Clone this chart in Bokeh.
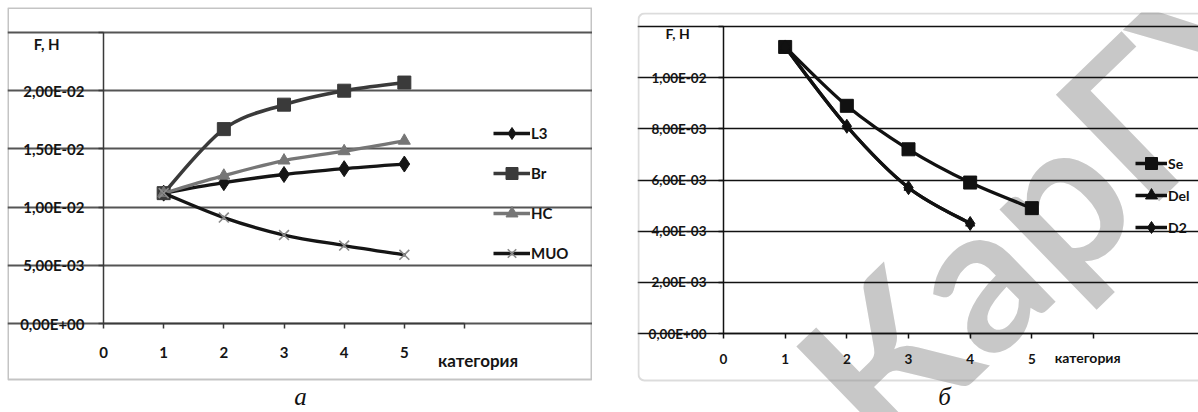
import numpy as np
from bokeh.plotting import figure
from bokeh.models import (Range1d, FixedTicker, Label, Legend, LegendItem, Spacer,
                          LinearAxis, Grid, BoxAnnotation)
from bokeh.layouts import row, column
from bokeh.embed import file_html
from bokeh.resources import INLINE

# ---------------- data ----------------
categories = [1, 2, 3, 4, 5]
L3 = [0.0112, 0.0121, 0.0128, 0.0133, 0.0137]
Br = [0.0112, 0.0167, 0.0188, 0.0200, 0.0207]
HC = [0.0112, 0.0127, 0.0140, 0.0148, 0.0157]
MUO = [0.0112, 0.0091, 0.0076, 0.0067, 0.0059]

categories_b = [1, 2, 3, 4, 5]
Se = [0.0112, 0.0089, 0.0072, 0.0059, 0.0049]
categories_d = [1, 2, 3, 4]
Del = [0.0112, 0.0081, 0.0057, 0.0043]
D2 = [0.0112, 0.0081, 0.0057, 0.0043]

x_ticks = [0, 1, 2, 3, 4, 5, 6]
x_tick_labels = ["0", "1", "2", "3", "4", "5", ""]
y_ticks_a = [0.0, 0.005, 0.01, 0.015, 0.02, 0.025]
y_tick_labels_a = ["0,00E+00", "5,00E-03", "1,00E-02", "1,50E-02", "2,00E-02", ""]
y_ticks_b = [0.0, 0.002, 0.004, 0.006, 0.008, 0.01, 0.012]
y_tick_labels_b = ["0,00E+00", "2,00E-03", "4,00E-03", "6,00E-03", "8,00E-03", "1,00E-02", ""]

FONT = "Lato"


def smooth(xs, ys):
    """Bezier control points (Catmull-Rom style) for a smoothed line."""
    x = np.asarray(xs, float)
    y = np.asarray(ys, float)
    n = len(x)
    xp = np.concatenate([[x[0]], x, [x[-1]]])
    yp = np.concatenate([[y[0]], y, [y[-1]]])
    return dict(
        x0=xp[1:n], y0=yp[1:n], x1=xp[2:n + 1], y1=yp[2:n + 1],
        cx0=xp[1:n] + (xp[2:n + 1] - xp[0:n - 1]) / 6.0,
        cy0=yp[1:n] + (yp[2:n + 1] - yp[0:n - 1]) / 6.0,
        cx1=xp[2:n + 1] - (xp[3:n + 2] - xp[1:n]) / 6.0,
        cy1=yp[2:n + 1] - (yp[3:n + 2] - yp[1:n]) / 6.0,
    )


def make_fig(w, h, ax_x, ax_y, xmax, ymax, frame_w, frame_h):
    """Frame covers the whole canvas; axes are placed at x=0 / y=0 inside it."""
    xu = frame_w / xmax
    yu = frame_h / ymax
    p = figure(width=w, height=h,
               x_range=Range1d(-ax_x / xu, (w - ax_x) / xu),
               y_range=Range1d(-(h - ax_y) / yu, ax_y / yu),
               x_axis_location=None, y_axis_location=None,
               output_backend="svg", toolbar_location=None,
               min_border=0, min_border_left=0, min_border_right=0,
               min_border_top=0, min_border_bottom=0)
    p.outline_line_color = None
    p.background_fill_color = "white"
    p.border_fill_color = "white"
    p.xgrid.visible = False
    p.ygrid.visible = False
    return p


def add_axes(p, xmax, yticks, ylabels, ymax, fs, ystand, xstand, axis_color, grid_color, grid_w):
    xa = LinearAxis(fixed_location=0, bounds=(0, xmax), ticker=FixedTicker(ticks=x_ticks),
                    major_label_overrides={t: l for t, l in zip(x_ticks, x_tick_labels)})
    ya = LinearAxis(fixed_location=0, bounds=(0, ymax), ticker=FixedTicker(ticks=yticks),
                    major_label_overrides={t: l for t, l in zip(yticks, ylabels)})
    for ax in (xa, ya):
        ax.axis_line_color = axis_color
        ax.axis_line_width = 1.5
        ax.major_tick_line_color = axis_color
        ax.major_tick_line_width = 1.5
        ax.major_tick_out = 5
        ax.major_tick_in = 0
        ax.minor_tick_line_color = None
        ax.major_label_text_font = FONT
        ax.major_label_text_font_style = "bold"
        ax.major_label_text_font_size = fs
        ax.major_label_text_color = "#151515"
    ya.major_label_standoff = ystand
    xa.major_label_standoff = xstand
    g = Grid(dimension=1, ticker=FixedTicker(ticks=yticks), bounds=(0, xmax),
             grid_line_color=grid_color, grid_line_width=grid_w)
    p.add_layout(g)
    p.add_layout(xa, "below")
    p.add_layout(ya, "left")


def series(p, xs, ys, color, width, marker, msize, mfill, mline, mlw=1.0):
    p.bezier(line_color=color, line_width=width, line_cap="round", **smooth(xs, ys))
    # legend-only line sample (holds no visible point)
    proxy = p.line(x=[np.nan], y=[np.nan], line_color=color, line_width=width)
    sc = p.scatter(x=xs, y=ys, marker=marker, size=msize, fill_color=mfill,
                   line_color=mline, line_width=mlw)
    return [proxy, sc]


def px_to_data(p, cx, cy):
    """canvas pixel -> data coordinates (for decorations only)."""
    xr, yr = p.x_range, p.y_range
    x = xr.start + cx / p.width * (xr.end - xr.start)
    y = yr.end - cy / p.height * (yr.end - yr.start)
    return x, y


# ---------------- panel a ----------------
W1, H1 = 585, 405
p1 = make_fig(W1, H1, 96, 316, 6, 0.025, 361, 291)
b0 = px_to_data(p1, 0.5, 0.5)
b1 = px_to_data(p1, 584, 372)
p1.add_layout(BoxAnnotation(left=b0[0], right=b1[0], top=b0[1], bottom=b1[1],
                            fill_alpha=0, line_color="#3a3a3a", line_width=2, level="underlay"))
add_axes(p1, 6, y_ticks_a, y_tick_labels_a, 0.025, "15px", 14, 18, "#3a3a3a", "#555555", 2)

r_l3 = series(p1, categories, L3, "#151515", 3.3, "diamond", 16, "#151515", "#151515")
r_br = series(p1, categories, Br, "#3a3a3a", 3.6, "square", 13, "#3a3a3a", "#3a3a3a")
r_hc = series(p1, categories, HC, "#767676", 3.3, "triangle", 12, "#767676", "#767676")
r_muo = series(p1, categories, MUO, "#151515", 3.3, "x", 14, None, "#8a8a8a", 1.6)

leg1 = Legend(items=[LegendItem(label="L3", renderers=r_l3),
                     LegendItem(label="Br", renderers=r_br),
                     LegendItem(label="HC", renderers=r_hc),
                     LegendItem(label="MUO", renderers=r_muo)],
              location=(486, 144), glyph_width=37, glyph_height=30, label_height=30,
              spacing=10, padding=0, margin=0, label_standoff=1,
              border_line_color=None, background_fill_alpha=0,
              label_text_font=FONT, label_text_font_style="bold",
              label_text_font_size="15px", label_text_color="#151515")
p1.add_layout(leg1)

p1.add_layout(Label(x=-1.16, y=0.02405, text="F, Н", text_font=FONT, text_font_style="bold",
                    text_font_size="15px", text_baseline="middle", text_color="#151515"))
p1.add_layout(Label(x=5.56, y=-0.0032, text="категория", text_font=FONT, text_font_style="bold",
                    text_font_size="17px", text_baseline="middle", text_color="#151515"))
cx, cy = px_to_data(p1, 293, 389)
p1.add_layout(Label(x=cx, y=cy, text="а", text_font="Liberation Serif", text_font_style="italic",
                    text_font_size="25px", text_align="center", text_baseline="middle",
                    text_color="#111111"))

# ---------------- panel b ----------------
W2, H2 = 561, 400
p2 = make_fig(W2, H2, 86, 321, 6, 0.012, 370, 307)
add_axes(p2, 6, y_ticks_b, y_tick_labels_b, 0.012, "13.5px", 12, 15, "#111111", "#111111", 1.5)

# watermark
p2.add_layout(Label(x=1.77, y=-0.0029, text="КарГУ", angle=0.77, text_font="Lato",
                    text_font_style="bold", text_font_size="205px", text_color="#c8c8c8",
                    text_baseline="alphabetic", level="image"))
b0 = px_to_data(p2, 1, 1)
b1 = px_to_data(p2, 640, 368)
p2.add_layout(BoxAnnotation(left=b0[0], right=b1[0], top=b0[1], bottom=b1[1],
                            fill_alpha=0, line_color="#8a8a8a", line_width=2,
                            border_radius=6, level="underlay"))

r_se = series(p2, categories_b, Se, "#111111", 3.3, "square", 13, "#111111", "#111111")
r_del = series(p2, categories_d, Del, "#111111", 3.3, "triangle", 9, "#111111", "#111111")
r_d2 = series(p2, categories_d, D2, "#111111", 3.3, "diamond", 14, "#111111", "#111111")

leg2 = Legend(items=[LegendItem(label="Se", renderers=r_se),
                     LegendItem(label="Del", renderers=r_del),
                     LegendItem(label="D2", renderers=r_d2)],
              location=(498, 170), glyph_width=32, glyph_height=30, label_height=30,
              spacing=2, padding=0, margin=0, label_standoff=1,
              border_line_color=None, background_fill_alpha=0,
              label_text_font=FONT, label_text_font_style="bold",
              label_text_font_size="14px", label_text_color="#111111")
p2.add_layout(leg2)

p2.add_layout(Label(x=-0.94, y=0.01173, text="F, Н", text_font=FONT, text_font_style="bold",
                    text_font_size="14px", text_baseline="middle", text_color="#111111"))
p2.add_layout(Label(x=5.37, y=-0.00094, text="категория", text_font=FONT, text_font_style="bold",
                    text_font_size="14px", text_baseline="middle", text_color="#111111"))
cx, cy = px_to_data(p2, 307, 384)
p2.add_layout(Label(x=cx, y=cy, text="б", text_font="Liberation Serif", text_font_style="italic",
                    text_font_size="25px", text_align="center", text_baseline="middle",
                    text_color="#111111"))

layout = column(Spacer(height=7),
                row(Spacer(width=7), p1, Spacer(width=45), column(Spacer(height=5), p2)))

open("out.html", "w").write(file_html(layout, INLINE))
